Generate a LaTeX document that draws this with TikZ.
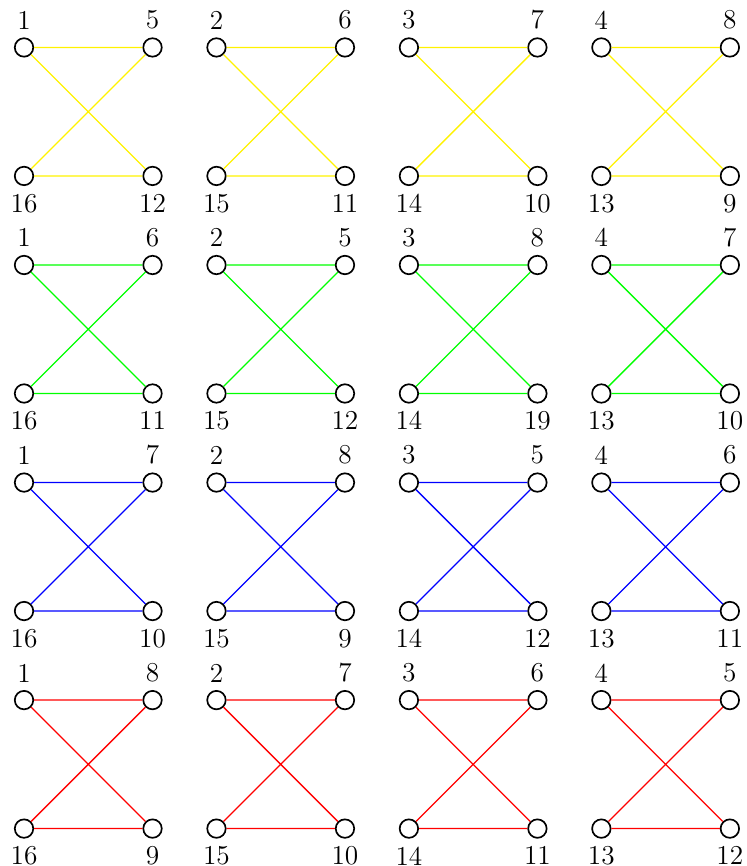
\documentclass[tikz,border=0pt]{standalone}
\usepackage{tikz}
\tikzset{
  vtx/.style={circle,draw,thick,fill=white,minimum size=8.8pt,inner sep=0pt},
  edg/.style={line width=0.6pt},
  every label/.style={font=\fontsize{13}{15}\selectfont,inner sep=0pt},
  label distance=3.6pt,
}
\begin{document}
\begin{tikzpicture}
\useasboundingbox (-0.402,0.794) rectangle (12.083,-13.696);
% one row per colour, four gadgets per row: top-left/top-right/bottom-left/bottom-right
\foreach \r/\col/\gs in {
  0/yellow/{1/5/16/12,2/6/15/11,3/7/14/10,4/8/13/9},
  1/green/{1/6/16/11,2/5/15/12,3/8/14/19,4/7/13/10},
  2/blue/{1/7/16/10,2/8/15/9,3/5/14/12,4/6/13/11},
  3/red/{1/8/16/9,2/7/15/10,3/6/14/11,4/5/13/12}} {
  \foreach \a/\b/\c/\d [count=\k from 0] in \gs {
    \node[vtx,label=above:\a] (tl-\r-\k) at (3.22*\k, -3.64*\r) {};
    \node[vtx,label=above:\b] (tr-\r-\k) at (3.22*\k+2.15, -3.64*\r) {};
    \node[vtx,label=below:\c] (bl-\r-\k) at (3.22*\k, -3.64*\r-2.15) {};
    \node[vtx,label=below:\d] (br-\r-\k) at (3.22*\k+2.15, -3.64*\r-2.15) {};
    \draw[edg,\col] (tl-\r-\k) -- (tr-\r-\k) (bl-\r-\k) -- (br-\r-\k)
      (tl-\r-\k) -- (br-\r-\k) (bl-\r-\k) -- (tr-\r-\k);
  }
}
\end{tikzpicture}
\end{document}
